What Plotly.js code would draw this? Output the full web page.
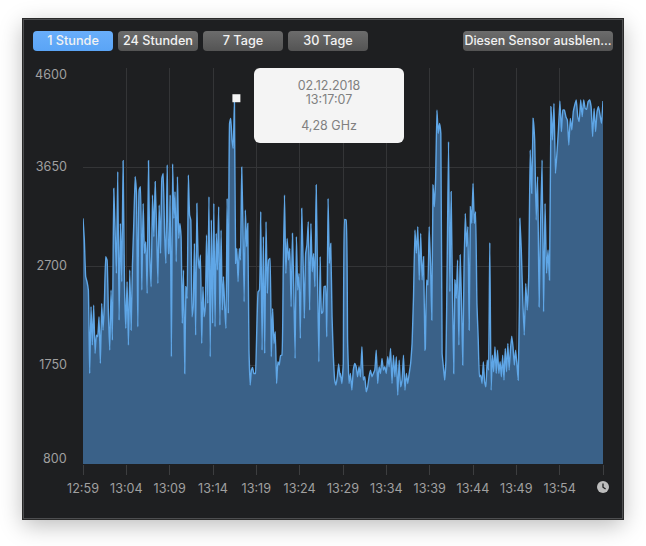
<!DOCTYPE html>
<html><head><meta charset="utf-8">
<script src="https://cdn.plot.ly/plotly-3.0.1.min.js"></script>
<style>
html,body{margin:0;padding:0;background:#fff;width:646px;height:546px;overflow:hidden;font-family:Inter,Roboto,sans-serif}
#win{position:absolute;left:23px;top:19px;width:598px;height:498px;background:#1e1f21;border:1px solid #4d4e50;outline:1px solid #2a2a2a;box-shadow:0 6px 22px rgba(0,0,0,.28)}
#chart{position:absolute;left:0;top:0;width:646px;height:546px}
.btn{position:absolute;top:31px;height:20px;line-height:20px;border-radius:4px;text-align:center;color:#f2f2f2;font-size:12.7px;font-weight:500;white-space:nowrap;overflow:hidden;background:linear-gradient(#6c6c6c,#545454)}
.btn.on{background:linear-gradient(#69aefb,#5aa4f6)}
#tip{position:absolute;left:254px;top:68px;width:150px;height:75px;background:#f4f4f4;border-radius:6px;color:#808080;font-size:12.5px;text-align:center;line-height:14px}
#tip div{position:absolute;left:0;width:100%}
#clock{position:absolute;left:597px;top:481px}
</style></head><body>
<div id="win"></div>
<div id="chart"></div>
<div class="btn on" style="left:33px;width:80px">1 Stunde</div>
<div class="btn" style="left:118px;width:80px">24 Stunden</div>
<div class="btn" style="left:203px;width:80px">7 Tage</div>
<div class="btn" style="left:288px;width:80px">30 Tage</div>
<div class="btn" style="left:463px;width:150px;font-size:12.4px">Diesen Sensor ausblen…</div>
<div id="tip"><div style="top:11px">02.12.2018</div><div style="top:25px">13:17:07</div><div style="top:51px">4,28 GHz</div></div>
<svg id="clock" width="12" height="12" viewBox="0 0 12 12"><circle cx="6" cy="6" r="6" fill="#bdbdbd"/><path d="M6 2.4V6.2L8.6 8" stroke="#1e1f21" stroke-width="1.3" fill="none"/></svg>
<script>
var seriesA=[3157,2949,2597,2549,2469,1669,2309,1941,2325,1861,2037,2021,2213,1765,2341,2085,2341,2789,2757,2245,1893,2469,1989,3445,3045,2629,3605,2181,3109,2549,3711,2549,2101,2549,1941,2661,2085,2709,3109,3557,3397,2117,3429,3461,2469,3301,2821,2933,2437,3711,2789,2501,3381,2981,3509,3077,2533,3285,2821,3541,3589,3029,2725,3669,2821];
var seriesB=[2821,3381,1829,3679,3157,3413,2741,3557,2965,3109,2981,2149,2661,1669,2501,2389,3573,3189,3141,2213,2309,2917,2037,3301,2789,2677,2805,1957,2501,2213,2309,2997,2341,3365,1829,3141,2149,3301,2117,3013,2661,3269,2133,3045,2277,2597,2300,2101,3349,2245,4069,4117,3909,3829,4277,2725,2869,2549,2869,2757,3647,3109,2357,3237,2885,3109,1893,1557,1701,1727,1669,1669];
var seriesC=[1669,2085,2453,2469,3221,1893,2981,1861,3125,2437,2757,2773,1829,2293,1957,2069,1573,1781,1749,1839,1845,2629,3381,2629,2965,2757,2869,2309,3013,2501,1813,2981,2469,2629,2005,3253,2789,2197,2821,2901,3125,2277,3109,2645,2821,2501,3477,2597,1781,2789,2245,2261,2501,2507,2021,3349,2725,2917,2213,1829,1605,1557,1637,1759,1637];
var seriesD=[1669,1573,1765,3147,3141,1989,1573,1669,1509,1701,1765,1733,1637,1733,1637,1925,1605,1637,1493,1541,1637,1701,1637,1669,1701,1893,1573,1733,1669,1813,1701,1733,1669,1829,1733,1909,1573,1845,1637,1829,1461,1797,1541,1605,1845,1509,1669,1573,1669,1765,1957,2405,3045,2821,3077,2565,3013,2565,2789,1893];
var seriesE=[1909,2565,2517,3077,2725,2181,3477,3269,3541,4197,3973,4069,3973,1861,1733,1605,1797,2789,3893,2453,3413,2469,1669,2565,2389,2757,1941,2805,2389,1749,2661,3205,2885,3077,2085,3269,3109,3493,3109,3221,2341,2005,1637,1653,1573,1781,1589,1541,1797,1701,2923,1509,1845,1685,1925,1669,1893,1669,1781,1637,1845,1605,1909,1685,1957,1701,1893,2027,1925,1749,1893,1765,1605,2341];
var seriesF=[3157,2853,2373,2037,2533,2277,2597,3813,3397,4117,3909,3141,3557,2309,3109,3717,2261,3301,2629,2853,2565,4229,3909,4261,3589,3781,4005,4283,3989,4197,4197,4133,4101,3861,4117,4005,4181,4245,4293,4133,4085,4293,4133,4293,4213,4203,4277,4293,4229,3941,4213,3989,4181,4229,4149,4069,4283];
var segments=[seriesA,seriesB,seriesC,seriesD,seriesE,seriesF];
var segStartMin=[0,9.92,19.9,29.7,39.5,50.4];
var segEndMin=[9.87,19.85,29.65,39.46,50.36,60];
var yTicks=[800,1750,2700,3650,4600];
var xTickMin=[0,5,10,15,20,25,30,35,40,45,50,55,60];
var xTickText=['12:59','13:04','13:09','13:14','13:19','13:24','13:29','13:34','13:39','13:44','13:49','13:54',''];
var selMin=[17.7],selVal=[4310];

var t=[],v=[];
segments.forEach(function(s,k){s.forEach(function(val,i){
  t.push(segStartMin[k]+(segEndMin[k]-segStartMin[k])*i/(s.length-1));v.push(val);});});

var tickFont={family:'Inter, Roboto, sans-serif',size:12.6,color:'#a0a0a0'};
Plotly.newPlot('chart',[
 {x:t,y:v,type:'scatter',mode:'lines',fill:'tozeroy',fillcolor:'#3a6188',
  line:{color:'#5fa6e6',width:1.4,shape:'spline',smoothing:0.3},hoverinfo:'skip'},
 {x:selMin,y:selVal,type:'scatter',mode:'markers',marker:{symbol:'square',size:8,color:'#f4f4f4'},hoverinfo:'skip',cliponaxis:false}
],{
 width:646,height:546,showlegend:false,
 paper_bgcolor:'rgba(0,0,0,0)',plot_bgcolor:'rgba(0,0,0,0)',
 margin:{l:83,r:43,t:68,b:82,pad:0},
 xaxis:{range:[0,60],tickmode:'array',tickvals:xTickMin,ticktext:xTickText,tickfont:tickFont,
   showgrid:true,gridcolor:'#343537',gridwidth:1,zeroline:false,showline:false,
   ticks:'outside',ticklen:10,tickcolor:'#3d3e40',tickwidth:1,ticklabelstandoff:3},
 yaxis:{range:[800,4600],tickmode:'array',tickvals:yTicks,ticktext:['','1750','2700','3650',''],tickfont:tickFont,
   showgrid:true,gridcolor:'#343537',gridwidth:1,zeroline:false,showline:false,ticks:'',ticklabelstandoff:15},
 annotations:[
  {x:0,xref:'paper',xanchor:'right',xshift:-14,y:4600,yref:'y',yshift:-6,text:'4600',showarrow:false,font:tickFont},
  {x:0,xref:'paper',xanchor:'right',xshift:-14,y:800,yref:'y',yshift:6,text:'800',showarrow:false,font:tickFont}
 ]
},{displayModeBar:false,staticPlot:true});
</script>
</body></html>
